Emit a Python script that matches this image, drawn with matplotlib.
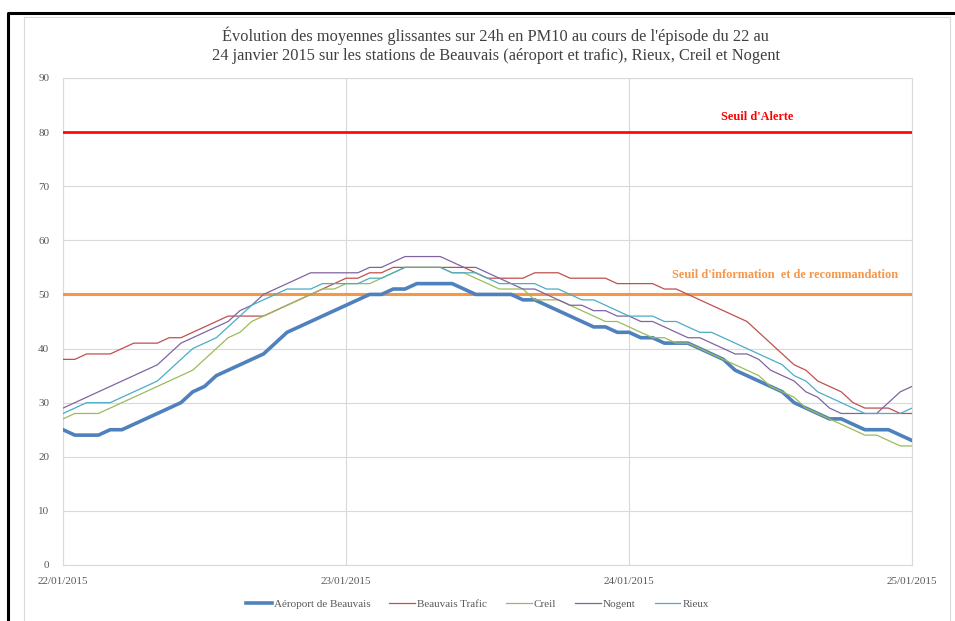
import numpy as np
import pandas as pd
import matplotlib
matplotlib.use("Agg")
import matplotlib.pyplot as plt
import matplotlib.dates as mdates
from matplotlib.lines import Line2D

plt.rcParams['font.family'] = ['Liberation Serif', 'DejaVu Serif']

# hourly 24h rolling means, 22/01/2015 00h -> 25/01/2015 00h
times = pd.date_range('2015-01-22 00:00', periods=73, freq='h')

aeroport = [25, 24, 24, 24, 25, 25, 26, 27, 28, 29, 30, 32, 33, 35, 36, 37, 38, 39, 41, 43,
            44, 45, 46, 47, 48, 49, 50, 50, 51, 51, 52, 52, 52, 52, 51, 50, 50, 50, 50, 49,
            49, 48, 47, 46, 45, 44, 44, 43, 43, 42, 42, 41, 41, 41, 40, 39, 38, 36, 35, 34,
            33, 32, 30, 29, 28, 27, 27, 26, 25, 25, 25, 24, 23]
trafic = [38, 38, 39, 39, 39, 40, 41, 41, 41, 42, 42, 43, 44, 45, 46, 46, 46, 46, 47, 48,
          49, 50, 51, 52, 53, 53, 54, 54, 55, 55, 55, 55, 55, 55, 55, 54, 53, 53, 53, 53,
          54, 54, 54, 53, 53, 53, 53, 52, 52, 52, 52, 51, 51, 50, 49, 48, 47, 46, 45, 43,
          41, 39, 37, 36, 34, 33, 32, 30, 29, 29, 29, 28, 28]
creil = [27, 28, 28, 28, 29, 30, 31, 32, 33, 34, 35, 36, 38, 40, 42, 43, 45, 46, 47, 48,
         49, 50, 51, 51, 52, 52, 52, 53, 54, 55, 55, 55, 55, 54, 54, 53, 52, 51, 51, 51,
         49, 49, 49, 48, 47, 46, 45, 45, 44, 43, 42, 42, 41, 41, 40, 39, 38, 37, 36, 35,
         33, 32, 31, 29, 28, 27, 26, 25, 24, 24, 23, 22, 22]
nogent = [29, 30, 31, 32, 33, 34, 35, 36, 37, 39, 41, 42, 43, 44, 45, 47, 48, 50, 51, 52,
          53, 54, 54, 54, 54, 54, 55, 55, 56, 57, 57, 57, 57, 56, 55, 55, 54, 53, 52, 51,
          51, 50, 49, 48, 48, 47, 47, 46, 46, 45, 45, 44, 43, 42, 42, 41, 40, 39, 39, 38,
          36, 35, 34, 32, 31, 29, 28, 28, 28, 28, 30, 32, 33]
rieux = [28, 29, 30, 30, 30, 31, 32, 33, 34, 36, 38, 40, 41, 42, 44, 46, 48, 49, 50, 51,
         51, 51, 52, 52, 52, 52, 53, 53, 54, 55, 55, 55, 55, 54, 54, 54, 53, 52, 52, 52,
         52, 51, 51, 50, 49, 49, 48, 47, 46, 46, 46, 45, 45, 44, 43, 43, 42, 41, 40, 39,
         38, 37, 35, 34, 32, 31, 30, 29, 28, 28, 28, 28, 29]

series_names = ['Aéroport de Beauvais', 'Beauvais Trafic', 'Creil', 'Nogent', 'Rieux']
series_vals = [aeroport, trafic, creil, nogent, rieux]
series_cols = ['#4F81BD', '#C0504D', '#9BBB59', '#8064A2', '#4BACC6']
series_lw = [2.6, 0.9, 0.9, 0.9, 0.9]

seuil_alerte = 80
seuil_info = 50

title = ("Évolution des moyennes glissantes sur 24h en PM10 au cours de l'épisode du 22 au\n"
         "24 janvier 2015 sur les stations de Beauvais (aéroport et trafic), Rieux, Creil et Nogent")

fig = plt.figure(figsize=(9.55, 6.21), dpi=100)
ax = fig.add_axes([0.066, 0.0902, 0.889, 0.7842])

ax.axhline(seuil_alerte, color='#FF0000', lw=1.9, zorder=3)
ax.axhline(seuil_info, color='#F79646', lw=2.2, zorder=3)

for name, vals, col, lw in zip(series_names, series_vals, series_cols, series_lw):
    ax.plot(times, vals, color=col, lw=lw, label=name, zorder=4 if lw > 2 else 5,
            solid_joinstyle='round')

ax.text(pd.Timestamp('2015-01-24 10:54'), 82.8, "Seuil d'Alerte", color='#FF0000',
        fontsize=8.8, fontweight='bold', ha='center', va='center')
ax.text(pd.Timestamp('2015-01-24 13:12'), 53.6, "Seuil d'information  et de recommandation",
        color='#F79646', fontsize=8.8, fontweight='bold', ha='center', va='center')

ax.set_xlim(times[0], times[-1])
ax.set_ylim(0, 90)
ax.set_yticks(np.arange(0, 91, 10))
ax.set_xticks(pd.date_range('2015-01-22', '2015-01-25', freq='D'))
ax.xaxis.set_major_formatter(mdates.DateFormatter('%d/%m/%Y'))
ax.grid(True, color='#D9D9D9', lw=0.8)
ax.set_axisbelow(True)
ax.tick_params(length=0, labelsize=8, labelcolor='#595959')
ax.tick_params(axis='x', pad=9)
ax.tick_params(axis='y', pad=10)
for s in ax.spines.values():
    s.set_color('#D9D9D9')
    s.set_linewidth(0.8)

fig.text(0.519, 1 - 45 / 621, title, ha='center', va='center', fontsize=11.8,
         color='#404040', linespacing=1.25)

fig.legend(loc='center', bbox_to_anchor=(0.5, 1 - 604 / 621), ncol=5, frameon=False,
           fontsize=8, labelcolor='#595959', handlelength=2.3, columnspacing=1.7,
           handletextpad=0.2)

# outer frame of the pasted chart
fig.add_artist(Line2D([24 / 955, 24 / 955, 950 / 955, 950 / 955], [0, 1 - 17 / 621, 1 - 17 / 621, 0],
                      transform=fig.transFigure, color='#D9D9D9', lw=0.8))
fig.add_artist(Line2D([8 / 955, 8 / 955, 1], [0, 1 - 13 / 621, 1 - 13 / 621],
                      transform=fig.transFigure, color='black', lw=2.2))

fig.savefig('out.png', dpi=100)
